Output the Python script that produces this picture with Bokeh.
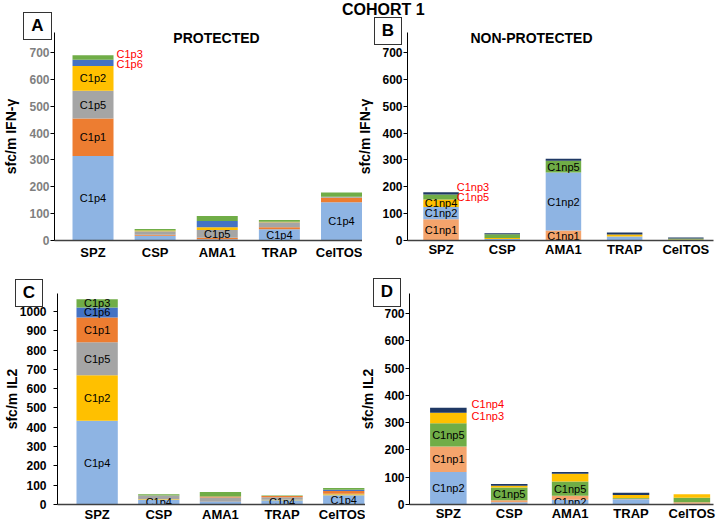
import numpy as np
from bokeh.plotting import figure
from bokeh.models import ColumnDataSource, Range1d, FixedTicker, Label, Div
from bokeh.layouts import row, column
from bokeh.embed import file_html
from bokeh.resources import INLINE
from bokeh.core.properties import value

# ---------------- data ----------------
categories = ["SPZ", "CSP", "AMA1", "TRAP", "CelTOS"]
yticks_700 = [0, 100, 200, 300, 400, 500, 600, 700]
yticks_1000 = [0, 100, 200, 300, 400, 500, 600, 700, 800, 900, 1000]

# Panel A: IFN-gamma, protected (stack order bottom -> top)
a_order = ["C1p4", "C1p1", "C1p5", "C1p2", "C1p6", "C1p3"]
a_C1p4 = [314, 18, 5, 42, 142]
a_C1p1 = [140, 3, 5, 7, 17]
a_C1p5 = [103, 13, 29, 19, 4]
a_C1p2 = [92, 3, 10, 2, 0]
a_C1p6 = [24, 0, 24, 0, 0]
a_C1p3 = [16, 6, 18, 6, 16]
a_inner = [("SPZ", "C1p4"), ("SPZ", "C1p1"), ("SPZ", "C1p5"), ("SPZ", "C1p2"),
           ("AMA1", "C1p5"), ("TRAP", "C1p4"), ("CelTOS", "C1p4")]
a_red = ["C1p3", "C1p6"]

# Panel B: IFN-gamma, non-protected
b_order = ["C1np1", "C1np2", "C1np4", "C1np5", "C1np3"]
b_C1np1 = [79, 0, 37, 0, 3]
b_C1np2 = [46, 6, 216, 15, 0]
b_C1np4 = [28, 3, 0, 7, 1]
b_C1np5 = [18, 14, 44, 0, 3]
b_C1np3 = [9, 4, 7, 8, 4]
b_inner = [("SPZ", "C1np1"), ("SPZ", "C1np2"), ("SPZ", "C1np4"),
           ("AMA1", "C1np1"), ("AMA1", "C1np2"), ("AMA1", "C1np5")]
b_red = ["C1np3", "C1np5"]

# Panel C: IL2, protected
c_order = ["C1p4", "C1p2", "C1p5", "C1p1", "C1p6", "C1p3"]
c_C1p4 = [434, 26, 14, 22, 48]
c_C1p2 = [235, 3, 0, 3, 5]
c_C1p5 = [171, 17, 22, 13, 3]
c_C1p1 = [129, 0, 5, 6, 14]
c_C1p6 = [52, 0, 0, 0, 6]
c_C1p3 = [42, 7, 24, 3, 10]
c_inner = [("SPZ", "C1p4"), ("SPZ", "C1p2"), ("SPZ", "C1p5"), ("SPZ", "C1p1"),
           ("SPZ", "C1p6"), ("SPZ", "C1p3"), ("CSP", "C1p4"), ("TRAP", "C1p4"),
           ("CelTOS", "C1p4")]
c_red = []

# Panel D: IL2, non-protected
d_order = ["C1np2", "C1np1", "C1np5", "C1np4", "C1np3"]
d_C1np2 = [119, 8, 17, 19, 3]
d_C1np1 = [94, 8, 15, 2, 5]
d_C1np5 = [85, 46, 52, 3, 17]
d_C1np4 = [39, 7, 29, 11, 13]
d_C1np3 = [18, 6, 6, 8, 0]
d_inner = [("SPZ", "C1np2"), ("SPZ", "C1np1"), ("SPZ", "C1np5"),
           ("CSP", "C1np5"), ("AMA1", "C1np2"), ("AMA1", "C1np5")]
d_red = ["C1np4", "C1np3"]

# ---------------- styles ----------------
COLORS = {
    "C1p4": "#8EB4E3", "C1p1": "#ED7D31", "C1p5": "#A5A5A5", "C1p2": "#FFC000",
    "C1p6": "#4472C4", "C1p3": "#70AD47",
    "C1np1": "#F4A46C", "C1np2": "#8EB4E3", "C1np4": "#FFC000",
    "C1np5": "#70AD47", "C1np3": "#1F3864",
}
SANS = "'Liberation Sans', Arial, sans-serif"


def make_panel(order, series, inner, red, width, height, borders, xr, ytop,
               bar_w, yticks, ylabel, tick_color, red_dx, red_dy,
               title=None, title_pos=None, x_standoff=2, ylabel_standoff=4,
               ytick_standoff=1, margin=None):
    left, right, top, bottom = borders
    p = figure(width=width, height=height, x_range=Range1d(*xr),
               y_range=Range1d(0, ytop), output_backend="svg",
               toolbar_location=None, min_border_left=left,
               min_border_right=right, min_border_top=top,
               min_border_bottom=bottom, border_fill_color=None,
               outline_line_color=None, background_fill_color=None)
    if margin is not None:
        p.margin = margin
    p.grid.visible = False
    xs = np.arange(len(categories))
    cum = np.zeros(len(categories))
    seg = {}
    for name in order:
        vals = np.array(series[name], dtype=float)
        src = ColumnDataSource(dict(x=xs, bottom=cum.copy(), top=cum + vals))
        p.vbar(x="x", bottom="bottom", top="top", width=bar_w, source=src,
               fill_color=COLORS[name], line_color=None)
        seg[name] = (cum.copy(), cum + vals)
        cum = cum + vals

    # labels inside bars
    lx, ly, lt = [], [], []
    for cat, name in inner:
        i = categories.index(cat)
        b, t = seg[name]
        lx.append(i)
        ly.append((b[i] + t[i]) / 2)
        lt.append(name)
    p.text(x=lx, y=ly, text=lt, text_align="center", text_baseline="middle",
           text_font=value(SANS), text_font_size="11px", text_color="black")

    # red labels to the right of the first bar
    if red:
        rx = [0 + bar_w / 2] * len(red)
        ry = [cum[0]] * len(red)
        p.text(x=rx, y=ry, text=red, x_offset=red_dx, y_offset=red_dy[:len(red)],
               text_align="left", text_baseline="middle",
               text_font=value(SANS), text_font_size="11px", text_color="#FF0000")

    # axes
    xa = p.xaxis[0]
    xa.ticker = FixedTicker(ticks=list(range(len(categories))))
    xa.major_label_overrides = {i: c for i, c in enumerate(categories)}
    xa.major_tick_out = 0
    xa.major_tick_in = 0
    xa.minor_tick_out = 0
    xa.minor_tick_in = 0
    xa.major_label_standoff = x_standoff
    xa.major_label_text_font = SANS
    xa.major_label_text_font_style = "bold"
    xa.major_label_text_font_size = "13px"
    xa.major_label_text_color = "black"
    xa.axis_line_color = "#404040"
    xa.axis_line_width = 1.5

    ya = p.yaxis[0]
    ya.ticker = FixedTicker(ticks=yticks)
    ya.major_tick_out = 4
    ya.major_tick_in = 0
    ya.minor_tick_out = 0
    ya.minor_tick_in = 0
    ya.major_label_standoff = ytick_standoff
    ya.major_label_text_font = SANS
    ya.major_label_text_font_style = "bold"
    ya.major_label_text_font_size = "12px"
    ya.major_label_text_color = tick_color
    ya.axis_line_color = "black"
    ya.major_tick_line_color = "black"
    ya.axis_label = ylabel
    ya.axis_label_text_font = SANS
    ya.axis_label_text_font_style = "bold"
    ya.axis_label_text_font_size = "14px"
    ya.axis_label_text_color = "black"
    ya.axis_label_standoff = ylabel_standoff

    if title:
        t = Label(x=title_pos[0], y=title_pos[1], x_units="screen",
                  y_units="screen", text=title, text_align="center",
                  text_baseline="middle", text_font=SANS,
                  text_font_style="bold", text_font_size="14px",
                  text_color="black")
        p.add_layout(t)
    return p


# top row: y 0..265, bottom row: y 265..527
pA = make_panel(a_order, dict(C1p4=a_C1p4, C1p1=a_C1p1, C1p5=a_C1p5, C1p2=a_C1p2,
                              C1p6=a_C1p6, C1p3=a_C1p3),
                a_inner, a_red, 362, 265, (54, 0, 28, 25), (-0.62, 4.338), 774,
                0.66, yticks_700, "sfc/m IFN-γ", "#7F7F7F", 3, [-1, 9],
                "PROTECTED", (162, 203), x_standoff=4, ylabel_standoff=7)

pB = make_panel(b_order, dict(C1np1=b_C1np1, C1np2=b_C1np2, C1np4=b_C1np4,
                              C1np5=b_C1np5, C1np3=b_C1np3),
                b_inner, b_red, 365, 265, (49, 6, 32, 22), (-0.548, 4.452), 774,
                0.58, yticks_700, "sfc/m IFN-γ", "black", -2, [-5, 5],
                "NON-PROTECTED", (124, 202.5), x_standoff=1, ylabel_standoff=6,
                margin=(0, 0, 0, -8))

pC = make_panel(c_order, dict(C1p4=c_C1p4, C1p2=c_C1p2, C1p5=c_C1p5, C1p1=c_C1p1,
                              C1p6=c_C1p6, C1p3=c_C1p3),
                c_inner, c_red, 365, 262, (54, 0, 27, 23), (-0.643, 4.353), 1093,
                0.67, yticks_1000, "sfc/m IL2", "black", 3, [0, 0],
                x_standoff=2, ylabel_standoff=-3, ytick_standoff=7)

pD = make_panel(d_order, dict(C1np2=d_C1np2, C1np1=d_C1np1, C1np5=d_C1np5,
                              C1np4=d_C1np4, C1np3=d_C1np3),
                d_inner, d_red, 362, 262, (47, 6, 28, 22), (-0.638, 4.355), 774,
                0.6, yticks_700, "sfc/m IL2", "black", 5, [-4, 8],
                x_standoff=1, ylabel_standoff=5, margin=(0, 0, 0, -8))

BOX_STYLE = {"border": "1.5px solid #333333", "background-color": "white",
             "box-sizing": "border-box", "font-family": SANS,
             "font-weight": "bold", "font-size": "17px", "line-height": "25px",
             "text-align": "center", "color": "black"}


def box(letter, x, y, w, h):
    # zero net height: positioned by margins only
    return Div(text=letter, width=w, height=h, margin=(y, 0, -(y + h), x),
               styles=BOX_STYLE)


title_div = Div(text="COHORT 1", width=100, height=18, margin=(1, 0, -19, 342),
                styles={"font-family": SANS, "font-weight": "bold",
                        "font-size": "16px", "line-height": "18px",
                        "color": "black", "white-space": "nowrap"})

layout = column(title_div,
                box("A", 23, 12, 29, 28),
                box("B", 374, 17, 28, 28),
                row(pA, pB),
                box("C", 15, 14, 28, 28),
                box("D", 373, 13, 28, 29),
                row(pC, pD))

open("out.html", "w").write(file_html(layout, INLINE))
